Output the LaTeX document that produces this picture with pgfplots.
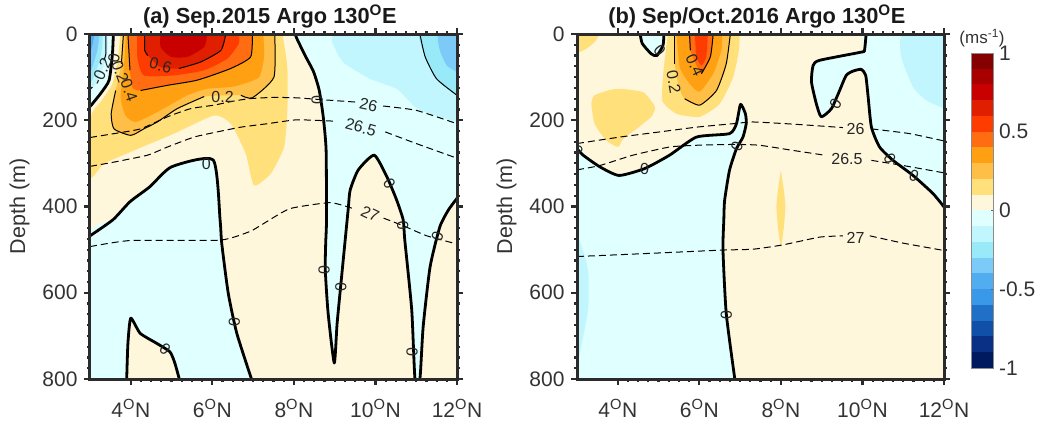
\documentclass[border=0pt]{standalone}
\usepackage{pgfplots}
\usepackage{pgfplotstable}
\usepackage{fontspec}
\setmainfont{Liberation Sans}
\pgfplotsset{compat=1.18}
\definecolor{cP0}{HTML}{FFF7DC}
\definecolor{cP1}{HTML}{FFE07A}
\definecolor{cP2}{HTML}{FFBE45}
\definecolor{cP3}{HTML}{FFA012}
\definecolor{cP4}{HTML}{FF6C12}
\definecolor{cP5}{HTML}{FF3C00}
\definecolor{cP6}{HTML}{E01E00}
\definecolor{cP7}{HTML}{C80000}
\definecolor{cP8}{HTML}{A80000}
\definecolor{cP9}{HTML}{850000}
\definecolor{cN0}{HTML}{E0FFFF}
\definecolor{cN1}{HTML}{C2F6FF}
\definecolor{cN2}{HTML}{98EAF8}
\definecolor{cN3}{HTML}{7CCAF8}
\definecolor{cN4}{HTML}{52ACF0}
\definecolor{cN5}{HTML}{3A98E8}
\definecolor{cN6}{HTML}{2070C8}
\definecolor{cN7}{HTML}{1050A8}
\definecolor{cN8}{HTML}{0A3085}
\definecolor{cN9}{HTML}{001A60}
\definecolor{spine}{HTML}{2B2B2B}
\definecolor{txt}{HTML}{333333}
% ---------- panel (a)
\pgfplotstableread[row sep=\\]{x y\\ 12 0\\ 8.03 0\\ 8.07 10\\ 8.27 49\\ 8.48 87\\ 8.62 130\\ 8.72 192\\ 8.79 269\\ 8.80 431\\ 8.78 485\\ 8.77 547\\ 8.84 648\\ 8.99 763\\ 9.06 671\\ 9.17 563\\ 9.33 408\\ 9.38 362\\ 9.58 315\\ 9.97 281\\ 10.28 331\\ 10.52 385\\ 10.68 431\\ 10.72 478\\ 10.89 640\\ 10.97 800\\ 11.09 800\\ 11.17 679\\ 11.34 540\\ 11.58 447\\ 11.79 408\\ 12 381\\}\aR
\pgfplotstableread[row sep=\\]{x y\\ 3 800\\ 3 468\\ 3.56 431\\ 3.98 389\\ 4.47 354\\ 5.0 308\\ 6.02 292\\ 6.19 431\\ 6.23 485\\ 6.39 601\\ 6.60 694\\ 6.96 800\\}\aL
\pgfplotstableread[row sep=\\]{x y\\ 3.90 800\\ 3.93 717\\ 4.0 659\\ 4.23 694\\ 4.63 717\\ 4.96 737\\ 5.08 763\\ 5.19 800\\}\aP
\pgfplotstableread[row sep=\\]{x y\\ 3 0\\ 3.57 0\\ 3.57 7\\ 3.55 46\\ 3.47 107\\ 3.26 138\\ 3.03 165\\ 3 168\\}\aTa
\pgfplotstableread[row sep=\\]{x y\\ 3 0\\ 3.41 0\\ 3.41 53\\ 3.18 107\\ 3.03 131\\ 3 133\\}\aTb
\pgfplotstableread[row sep=\\]{x y\\ 3 0\\ 3.30 0\\ 3.26 53\\ 3.06 107\\ 3 112\\}\aTc
\pgfplotstableread[row sep=\\]{x y\\ 3 0\\ 3.22 0\\ 3.18 38\\ 3.03 84\\ 3 88\\}\aTd
\pgfplotstableread[row sep=\\]{x y\\ 3 0\\ 3.1 0\\ 3.07 22\\ 3 46\\}\aTe
\pgfplotstableread[row sep=\\]{x y\\ 12 0\\ 9.07 0\\ 9.03 38\\ 9.25 69\\ 9.87 104\\ 10.52 127\\ 10.77 150\\ 11.09 177\\ 12 204\\}\aRa
\pgfplotstableread[row sep=\\]{x y\\ 12 0\\ 11.09 0\\ 11.22 53\\ 11.50 104\\ 12 142\\}\aRb
\pgfplotstableread[row sep=\\]{x y\\ 12 0\\ 11.54 0\\ 11.58 38\\ 11.75 73\\ 12 88\\}\aRc
\pgfplotstableread[row sep=\\]{x y\\ 3.74 0\\ 3.69 53\\ 3.55 115\\ 3.26 158\\ 3.02 192\\ 3 332\\ 3.34 301\\ 4.08 270\\ 5.06 231\\ 6.04 189\\ 6.45 208\\ 6.82 278\\ 7.02 351\\ 7.43 324\\ 7.76 262\\ 7.84 177\\ 7.84 77\\ 7.72 0\\}\aA
\pgfplotstableread[row sep=\\]{x y\\ 3.82 0\\ 3.77 69\\ 3.63 131\\ 3.52 185\\ 3.59 220\\ 4.0 235\\ 4.32 220\\ 4.65 204\\ 5.14 173\\ 5.80 145\\ 6.70 142\\ 6.98 148\\ 7.51 100\\ 7.53 0\\}\aB
\pgfplotstableread[row sep=\\]{x y\\ 3.88 0\\ 3.83 77\\ 3.75 146\\ 3.87 189\\ 4.12 204\\ 4.65 181\\ 5.39 142\\ 5.88 127\\ 6.45 123\\ 6.78 115\\ 7.15 100\\ 7.27 53\\ 7.25 0\\}\aC
\pgfplotstableread[row sep=\\]{x y\\ 3.93 0\\ 3.98 84\\ 4.04 124\\ 4.24 131\\ 4.90 119\\ 5.63 107\\ 6.45 80\\ 6.94 53\\ 6.98 0\\}\aD
\pgfplotstableread[row sep=\\]{x y\\ 4.16 0\\ 4.16 53\\ 4.32 96\\ 5.06 96\\ 5.80 84\\ 6.37 57\\ 6.65 22\\ 6.65 0\\}\aE
\pgfplotstableread[row sep=\\]{x y\\ 4.34 0\\ 4.34 38\\ 4.49 57\\ 4.73 77\\ 5.18 80\\ 5.71 65\\ 6.21 38\\ 6.33 0\\}\aF
\pgfplotstableread[row sep=\\]{x y\\ 4.73 0\\ 4.73 30\\ 4.98 53\\ 5.39 53\\ 5.80 30\\ 5.88 0\\}\aG
% ---------- panel (b)
\pgfplotstableread[row sep=\\]{x y\\ 3 800\\ 3 266\\ 3.15 281\\ 3.56 308\\ 4.03 328\\ 4.66 312\\ 5.27 281\\ 5.93 239\\ 6.74 231\\ 6.91 208\\ 7.01 163\\ 7.13 185\\ 7.15 208\\ 7.07 239\\ 6.91 266\\ 6.74 316\\ 6.62 386\\ 6.60 432\\ 6.58 501\\ 6.66 648\\ 6.87 800\\}\bC
\pgfplotstableread[row sep=\\]{x y\\ 4.55 0\\ 4.60 22\\ 4.82 46\\ 4.96 50\\ 5.11 26\\ 5.13 0\\}\bT
\pgfplotstableread[row sep=\\]{x y\\ 12 0\\ 10.09 0\\ 10.05 38\\ 9.97 42\\ 8.95 61\\ 8.79 73\\ 8.75 111\\ 8.87 162\\ 8.99 192\\ 9.24 173\\ 9.44 131\\ 9.60 96\\ 9.77 86\\ 9.97 82\\ 10.08 96\\ 10.14 146\\ 10.22 216\\ 10.42 262\\ 10.75 293\\ 11.24 328\\ 11.73 370\\ 12 401\\}\bR
\pgfplotstableread[row sep=\\]{x y\\ 12 0\\ 10.99 0\\ 10.95 53\\ 11.24 123\\ 11.57 154\\ 12 173\\}\bRa
\pgfplotstableread[row sep=\\]{x y\\ 3 477\\ 3.07 480\\ 3.27 547\\ 3.27 640\\ 3.02 763\\ 3 763\\}\bLa
\pgfplotstableread[row sep=\\]{x y\\ 3 0\\ 3 42\\ 3.23 34\\ 3.43 19\\ 3.56 0\\}\bYa
\pgfplotstableread[row sep=\\]{x y\\ 3.35 162\\ 3.43 142\\ 3.96 127\\ 4.62 135\\ 4.91 169\\ 4.82 192\\ 4.46 220\\ 4.13 243\\ 4.01 262\\ 3.72 247\\ 3.43 208\\ 3.35 162\\}\bYb
\pgfplotstableread[row sep=\\]{x y\\ 8.0 316\\ 7.93 360\\ 7.89 400\\ 7.93 450\\ 8.0 494\\ 8.07 450\\ 8.11 400\\ 8.07 360\\}\bYc
\pgfplotstableread[row sep=\\]{x y\\ 5.23 0\\ 5.13 77\\ 5.09 154\\ 5.44 185\\ 6.01 192\\ 6.5 162\\ 6.83 100\\ 6.97 38\\ 6.99 0\\}\bA
\pgfplotstableread[row sep=\\]{x y\\ 5.40 0\\ 5.40 69\\ 5.50 123\\ 5.64 150\\ 6.01 165\\ 6.42 131\\ 6.66 69\\ 6.76 0\\}\bB
\pgfplotstableread[row sep=\\]{x y\\ 5.44 0\\ 5.52 77\\ 5.76 115\\ 6.01 134\\ 6.34 92\\ 6.54 38\\ 6.56 0\\}\bD
\pgfplotstableread[row sep=\\]{x y\\ 5.76 0\\ 5.78 38\\ 6.05 92\\ 6.27 53\\ 6.34 0\\}\bE
\pgfplotstableread[row sep=\\]{x y\\ 5.89 0\\ 5.93 53\\ 6.05 73\\ 6.17 53\\ 6.21 0\\}\bF
% ---------- helpers
\newcommand\FP[2]{\addplot[fill=#1,draw=none,forget plot,smooth,tension=0.35] table {#2} --cycle;}
\newcommand\LZ[1]{\addplot[line width=2.8pt,black,line join=round,forget plot,smooth,tension=0.35] table {#1};}
\newcommand\LZC[1]{\addplot[line width=2.8pt,black,line join=round,forget plot,smooth,tension=0.35,skip coords between index={0}{1}] table {#1};}
\newcommand\LB[4]{\node[font=\fontsize{16}{16}\selectfont,text=black!85,rotate=#4,inner sep=0pt] at (axis cs:#1,#2) {#3};}
\pgfplotsset{
  panel/.style={
    scale only axis,width=367pt,height=345pt,anchor=south west,
    xmin=3,xmax=12,ymin=0,ymax=800,y dir=reverse,axis on top,
    xtick={4,6,8,10,12},
    xticklabels={4\textsuperscript{O}N,6\textsuperscript{O}N,8\textsuperscript{O}N,10\textsuperscript{O}N,12\textsuperscript{O}N},
    ytick={0,200,400,600,800},
    minor x tick num=7,minor y tick num=7,
    tick align=outside,
    major tick length=6pt,minor tick length=3pt,
    every tick/.style={spine,line width=2.2pt},
    minor tick style={spine,line width=2.2pt},
    axis line style={spine,line width=3pt},
    axis background/.style={fill=cP0},
    tick label style={font=\fontsize{21}{23}\selectfont,text=txt},
    /pgf/number format/assume math mode=true,
    ylabel={Depth (m)},
    ylabel style={font=\fontsize{21.5}{23}\selectfont,text=txt,at={(axis description cs:-0.155,0.5)}},
    xticklabel style={yshift=-11pt},
    yticklabel style={xshift=-3pt},
    title style={at={(axis description cs:0.49,1)},anchor=base,yshift=5pt,font=\bfseries\fontsize{21.8}{23}\selectfont,text=black!90},
  },
  iso/.style={black,line width=1pt,dash pattern=on 7pt off 4pt,forget plot},
  thin/.style={black,line width=1pt,forget plot,smooth,tension=0.35},
}
\begin{document}
\begin{tikzpicture}
\useasboundingbox (0,0) rectangle (1037pt,423pt);
% ============= (a)
\begin{axis}[panel,at={(90pt,44pt)},title={(a) Sep.2015 Argo 130\textsuperscript{O}E}]
\FP{cN0}{\aR}\FP{cN1}{\aRa}\FP{cN2}{\aRb}\FP{cN3}{\aRc}
\FP{cN0}{\aL}\FP{cP0}{\aP}
\FP{cN0}{\aTa}\FP{cN1}{\aTb}\FP{cN2}{\aTc}\FP{cN3}{\aTd}\FP{cN4}{\aTe}
\FP{cP1}{\aA}\FP{cP2}{\aB}\FP{cP3}{\aC}\FP{cP4}{\aD}\FP{cP5}{\aE}\FP{cP6}{\aF}\FP{cP7}{\aG}
\LZC{\aR}\LZC{\aL}\LZ{\aP}\LZC{\aTa}
% thin contours
\addplot[thin] table[row sep=\\]{x y\\ 3.82 0\\ 3.77 69\\};
\addplot[thin] table[row sep=\\]{x y\\ 3.63 131\\ 3.52 185\\ 3.59 220\\ 4.0 235\\ 4.32 220\\ 4.65 204\\ 5.14 173\\ 5.80 145\\};
\addplot[thin] table[row sep=\\]{x y\\ 6.70 142\\ 6.98 148\\ 7.51 100\\ 7.53 0\\};
\addplot[thin] table[row sep=\\]{x y\\ 3.93 0\\ 3.98 84\\};
\addplot[thin] table[row sep=\\]{x y\\ 4.24 131\\ 4.90 119\\ 5.63 107\\ 6.45 80\\ 6.94 53\\ 6.98 0\\};
\addplot[thin] table[row sep=\\]{x y\\ 4.34 0\\ 4.34 38\\ 4.42 50\\};
\addplot[thin] table[row sep=\\]{x y\\ 5.18 80\\ 5.71 65\\ 6.21 38\\ 6.33 0\\};
\addplot[thin] table[row sep=\\]{x y\\ 3.39 0\\ 3.39 46\\ 3.34 61\\};
\addplot[thin] table[row sep=\\]{x y\\ 3.06 123\\ 3 128\\};
\addplot[thin] table[row sep=\\]{x y\\ 11.09 0\\ 11.22 53\\ 11.50 104\\ 12 142\\};
% isopycnals
\addplot[iso,smooth,tension=0.3] table[row sep=\\]{x y\\ 3 240\\ 3.59 231\\ 4.24 220\\ 4.9 192\\ 5.47 173\\ 6.04 165\\ 6.5 156\\ 6.9 150\\ 7.5 147\\ 8.07 148\\ 8.64 152\\ 9.54 158\\};
\addplot[iso,smooth,tension=0.3] table[row sep=\\]{x y\\ 10.19 167\\ 11.0 177\\ 12 208\\};
\addplot[iso,smooth,tension=0.3] table[row sep=\\]{x y\\ 3 307\\ 3.59 297\\ 4.41 281\\ 4.9 262\\ 5.55 239\\ 6.12 227\\ 6.7 216\\ 7.35 208\\ 8.07 199\\ 8.97 202\\};
\addplot[iso,smooth,tension=0.3] table[row sep=\\]{x y\\ 10.24 227\\ 11.0 254\\ 12 288\\};
\addplot[iso,smooth,tension=0.3] table[row sep=\\]{x y\\ 3 493\\ 3.98 479\\ 6.19 478\\ 6.92 458\\ 7.25 440\\ 7.9 405\\ 8.89 391\\ 9.46 405\\};
\addplot[iso,smooth,tension=0.3] table[row sep=\\]{x y\\ 10.2 427\\ 10.69 445\\ 11.26 468\\ 12 487\\};
\LB{5.85}{301}{0}{0}\LB{8.57}{154}{0}{90}\LB{10.34}{347}{0}{-60}
\LB{8.74}{547}{0}{90}\LB{9.15}{587}{0}{90}\LB{10.67}{444}{0}{95}
\LB{11.52}{470}{0}{70}\LB{6.54}{669}{0}{90}\LB{10.9}{737}{0}{90}
\LB{4.84}{731}{0}{-40}\LB{3.59}{57}{0}{80}
\LB{3.28}{88}{-0.2}{65}\LB{3.74}{88}{0.2}{-70}\LB{3.96}{131}{0.4}{-70}
\LB{4.73}{73}{0.6}{-15}\LB{6.25}{145}{0.2}{0}
\LB{9.83}{165}{26}{-12}\LB{9.64}{216}{26.5}{-15}\LB{9.87}{417}{27}{-25}
\end{axis}
% ============= (b)
\begin{axis}[panel,at={(577pt,44pt)},title={(b) Sep/Oct.2016 Argo 130\textsuperscript{O}E}]
\FP{cN0}{\bC}\FP{cN1}{\bLa}\FP{cN0}{\bT}\FP{cN0}{\bR}\FP{cN1}{\bRa}
\FP{cP1}{\bYa}\FP{cP1}{\bYb}\FP{cP1}{\bYc}
\FP{cP1}{\bA}\FP{cP2}{\bB}\FP{cP3}{\bD}\FP{cP4}{\bE}\FP{cP5}{\bF}
\LZC{\bC}\LZ{\bT}\LZC{\bR}
\addplot[thin] table[row sep=\\]{x y\\ 5.40 0\\ 5.40 69\\};
\addplot[thin] table[row sep=\\]{x y\\ 5.64 150\\ 6.01 165\\ 6.42 131\\ 6.66 69\\ 6.76 0\\};
\addplot[thin] table[row sep=\\]{x y\\ 5.76 0\\ 5.78 38\\};
\addplot[thin] table[row sep=\\]{x y\\ 6.05 92\\ 6.27 53\\ 6.34 0\\};
\addplot[iso,smooth,tension=0.3] table[row sep=\\]{x y\\ 3 254\\ 4.05 239\\ 5.03 227\\ 5.93 216\\ 6.83 208\\ 7.32 204\\ 8.3 209\\ 9.52 217\\};
\addplot[iso,smooth,tension=0.3] table[row sep=\\]{x y\\ 10.22 220\\ 11.16 231\\ 12 248\\};
\addplot[iso,smooth,tension=0.3] table[row sep=\\]{x y\\ 3 315\\ 3.56 305\\ 4.37 281\\ 5.27 262\\ 5.93 258\\ 6.91 256\\ 7.48 258\\ 8.3 270\\ 9.07 281\\};
\addplot[iso,smooth,tension=0.3] table[row sep=\\]{x y\\ 10.22 293\\ 11 305\\ 12 322\\};
\addplot[iso,smooth,tension=0.3] table[row sep=\\]{x y\\ 3 516\\ 4.95 508\\ 6.58 501\\ 7.32 499\\ 8.05 489\\ 8.95 471\\ 9.52 468\\};
\addplot[iso,smooth,tension=0.3] table[row sep=\\]{x y\\ 10.18 468\\ 11 485\\ 12 502\\};
\LB{3.0}{271}{0}{-60}\LB{4.66}{312}{0}{0}\LB{6.92}{260}{0}{70}
\LB{5.03}{39}{0}{-50}\LB{9.34}{162}{0}{60}\LB{10.67}{288}{0}{-60}
\LB{11.26}{330}{0}{-20}\LB{6.66}{651}{0}{90}
\LB{5.37}{111}{0.2}{-80}\LB{5.89}{73}{0.4}{-65}
\LB{9.83}{220}{26}{0}\LB{9.62}{289}{26.5}{0}\LB{9.83}{472}{27}{0}
\end{axis}
% ============= colour bar
\begin{axis}[scale only axis,width=22.5pt,height=315pt,anchor=south west,at={(971pt,55pt)},
  xmin=0,xmax=1,ymin=-1,ymax=1,xtick=\empty,ytick={-1,-0.5,0,0.5,1},
  yticklabels={-1,-0.5,0,0.5,1},
  axis on top,ytick pos=right,yticklabel pos=right,major tick length=3pt,
  tick align=inside,
  axis line style={draw=black!45,line width=0.6pt},
  every tick/.style={black!60,line width=0.6pt},
  tick label style={font=\fontsize{21}{23}\selectfont,text=txt},
  /pgf/number format/assume math mode=true,
  yticklabel style={xshift=2pt},
  clip=true]
\addplot[fill=cN9,draw=none,forget plot] coordinates {(0,-1)(1,-1)(1,-0.9)(0,-0.9)} --cycle;
\addplot[fill=cN8,draw=none,forget plot] coordinates {(0,-0.9)(1,-0.9)(1,-0.8)(0,-0.8)} --cycle;
\addplot[fill=cN7,draw=none,forget plot] coordinates {(0,-0.8)(1,-0.8)(1,-0.7)(0,-0.7)} --cycle;
\addplot[fill=cN6,draw=none,forget plot] coordinates {(0,-0.7)(1,-0.7)(1,-0.6)(0,-0.6)} --cycle;
\addplot[fill=cN5,draw=none,forget plot] coordinates {(0,-0.6)(1,-0.6)(1,-0.5)(0,-0.5)} --cycle;
\addplot[fill=cN4,draw=none,forget plot] coordinates {(0,-0.5)(1,-0.5)(1,-0.4)(0,-0.4)} --cycle;
\addplot[fill=cN3,draw=none,forget plot] coordinates {(0,-0.4)(1,-0.4)(1,-0.3)(0,-0.3)} --cycle;
\addplot[fill=cN2,draw=none,forget plot] coordinates {(0,-0.3)(1,-0.3)(1,-0.2)(0,-0.2)} --cycle;
\addplot[fill=cN1,draw=none,forget plot] coordinates {(0,-0.2)(1,-0.2)(1,-0.1)(0,-0.1)} --cycle;
\addplot[fill=cN0,draw=none,forget plot] coordinates {(0,-0.1)(1,-0.1)(1,0)(0,0)} --cycle;
\addplot[fill=cP0,draw=none,forget plot] coordinates {(0,0)(1,0)(1,0.1)(0,0.1)} --cycle;
\addplot[fill=cP1,draw=none,forget plot] coordinates {(0,0.1)(1,0.1)(1,0.2)(0,0.2)} --cycle;
\addplot[fill=cP2,draw=none,forget plot] coordinates {(0,0.2)(1,0.2)(1,0.3)(0,0.3)} --cycle;
\addplot[fill=cP3,draw=none,forget plot] coordinates {(0,0.3)(1,0.3)(1,0.4)(0,0.4)} --cycle;
\addplot[fill=cP4,draw=none,forget plot] coordinates {(0,0.4)(1,0.4)(1,0.5)(0,0.5)} --cycle;
\addplot[fill=cP5,draw=none,forget plot] coordinates {(0,0.5)(1,0.5)(1,0.6)(0,0.6)} --cycle;
\addplot[fill=cP6,draw=none,forget plot] coordinates {(0,0.6)(1,0.6)(1,0.7)(0,0.7)} --cycle;
\addplot[fill=cP7,draw=none,forget plot] coordinates {(0,0.7)(1,0.7)(1,0.8)(0,0.8)} --cycle;
\addplot[fill=cP8,draw=none,forget plot] coordinates {(0,0.8)(1,0.8)(1,0.9)(0,0.9)} --cycle;
\addplot[fill=cP9,draw=none,forget plot] coordinates {(0,0.9)(1,0.9)(1,1)(0,1)} --cycle;
\end{axis}
\node[font=\fontsize{17}{18}\selectfont,text=txt] at (982pt,385pt) {(ms\textsuperscript{-1})};
\end{tikzpicture}
\end{document}
